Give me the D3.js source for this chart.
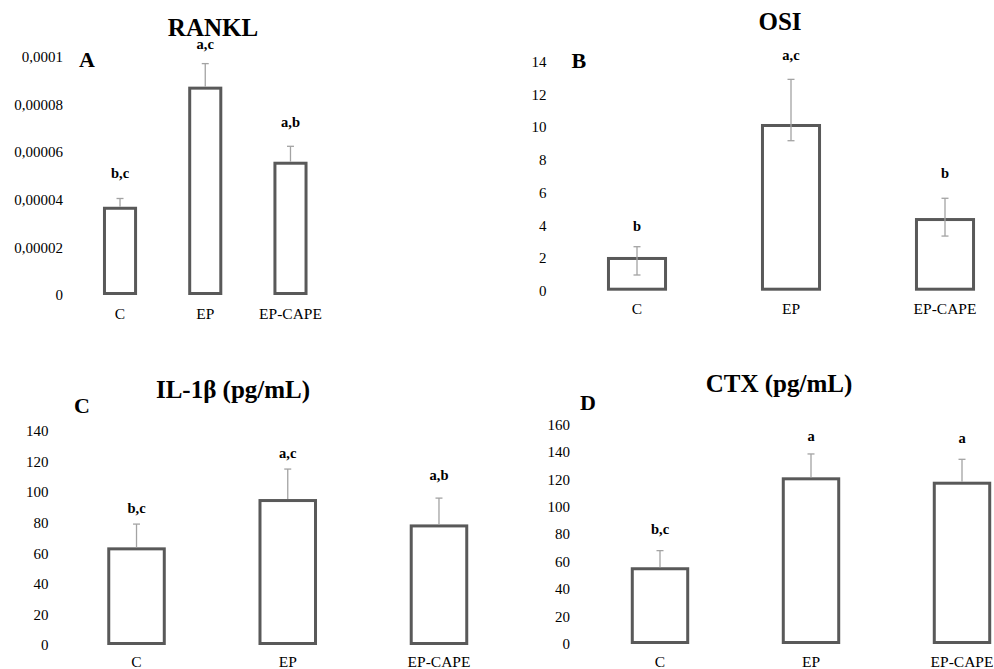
<!DOCTYPE html>
<html>
<head>
<meta charset="utf-8">
<script src="https://cdn.jsdelivr.net/npm/d3@7/dist/d3.min.js"></script>
<style>
  html, body { margin: 0; padding: 0; background: #fff; }
  svg { display: block; }
  text { font-family: "Liberation Serif", "Tinos", "Times New Roman", serif; fill: #000; }
</style>
</head>
<body>
<svg id="chart" width="994" height="669"></svg>
<script>
// ---------------- DATA ----------------
const categories = ["C", "EP", "EP-CAPE"];

// Panel A: RANKL
const rankValues = [0.0000364, 0.0000868, 0.0000553];
const rankErrHi  = [0.0000041, 0.0000103, 0.0000071];
const rankErrLo  = [0, 0, 0];
const rankLetters = ["b,c", "a,c", "a,b"];
const rankTicks = [0, 0.00002, 0.00004, 0.00006, 0.00008, 0.0001];
const rankTickLabels = ["0", "0,00002", "0,00004", "0,00006", "0,00008", "0,0001"];

// Panel B: OSI
const osiValues = [1.97, 10.1, 4.35];
const osiErrHi  = [0.72, 2.82, 1.3];
const osiErrLo  = [1.01, 0.93, 1.01];
const osiLetters = ["b", "a,c", "b"];
const osiTicks = [0, 2, 4, 6, 8, 10, 12, 14];
const osiTickLabels = ["0", "2", "4", "6", "8", "10", "12", "14"];

// Panel C: IL-1β
const ilValues = [62.9, 94.5, 77.9];
const ilErrHi  = [16.2, 20.6, 18.2];
const ilErrLo  = [0, 0, 0];
const ilLetters = ["b,c", "a,c", "a,b"];
const ilTicks = [0, 20, 40, 60, 80, 100, 120, 140];
const ilTickLabels = ["0", "20", "40", "60", "80", "100", "120", "140"];

// Panel D: CTX
const ctxValues = [54.8, 120.3, 117.1];
const ctxErrHi  = [13.2, 18.1, 17.4];
const ctxErrLo  = [0, 0, 0];
const ctxLetters = ["b,c", "a", "a"];
const ctxTicks = [0, 20, 40, 60, 80, 100, 120, 140, 160];
const ctxTickLabels = ["0", "20", "40", "60", "80", "100", "120", "140", "160"];

// ---------------- LAYOUT ----------------
const FONT = "'Liberation Serif', 'Tinos', 'Times New Roman', serif";
const panels = [
  { title: "RANKL", letter: "A", values: rankValues, errHi: rankErrHi, errLo: rankErrLo,
    letters: rankLetters, ticks: rankTicks, tickLabels: rankTickLabels,
    yDomain: [0, 0.0001], yRange: [295, 56.7], xRange: [77.4, 333.1], padding: 0.6,
    tickX: 63, titleX: 213, titleY: 35.5, letterX: 79, letterY: 67, catY: 319,
    labelOffsets: [20, 15, 19] },
  { title: "OSI", letter: "B", values: osiValues, errHi: osiErrHi, errLo: osiErrLo,
    letters: osiLetters, ticks: osiTicks, tickLabels: osiTickLabels,
    yDomain: [0, 14], yRange: [290.7, 61.7], xRange: [560, 1022], padding: 0.61,
    tickX: 546.5, titleX: 780, titleY: 29.5, letterX: 571.5, letterY: 67.5, catY: 314,
    labelOffsets: [16, 19, 20] },
  { title: "IL-1β (pg/mL)", letter: "C", values: ilValues, errHi: ilErrHi, errLo: ilErrLo,
    letters: ilLetters, ticks: ilTicks, tickLabels: ilTickLabels,
    yDomain: [0, 140], yRange: [645, 431], xRange: [60.9, 514.6], padding: 0.613,
    tickX: 48.5, titleX: 233, titleY: 398, letterX: 74, letterY: 413, catY: 666.5,
    labelOffsets: [11.5, 11.5, 18.5] },
  { title: "CTX (pg/mL)", letter: "D", values: ctxValues, errHi: ctxErrHi, errLo: ctxErrLo,
    letters: ctxLetters, ticks: ctxTicks, tickLabels: ctxTickLabels,
    yDomain: [0, 160], yRange: [644, 424.3], xRange: [584.5, 1037.5], padding: 0.613,
    tickX: 570, titleX: 779, titleY: 392, letterX: 580, letterY: 410, catY: 666.5,
    labelOffsets: [16.5, 12.5, 16] }
];

const barStroke = "#595959";
const errColor = "#a3a3a3";

const svg = d3.select("#chart");

panels.forEach(p => {
  const g = svg.append("g");
  const x = d3.scaleBand().domain(categories).range(p.xRange)
    .paddingInner(p.padding).paddingOuter(p.padding / 2);
  const y = d3.scaleLinear().domain(p.yDomain).range(p.yRange);

  // y axis (labels only)
  const yAxis = d3.axisLeft(y).tickValues(p.ticks)
    .tickFormat((d, i) => p.tickLabels[i]).tickSize(0).tickPadding(0);
  const ya = g.append("g").attr("transform", `translate(${p.tickX},0)`).call(yAxis);
  ya.attr("font-family", FONT);
  ya.select(".domain").remove();
  ya.selectAll("text").attr("font-size", 15).attr("font-family", FONT).attr("fill", "#111");

  // x axis (labels only)
  const xAxis = d3.axisBottom(x).tickSize(0).tickPadding(0);
  const xa = g.append("g").attr("transform", `translate(0,${p.catY})`).call(xAxis);
  xa.attr("font-family", FONT);
  xa.select(".domain").remove();
  xa.selectAll("text").attr("font-size", 15.5).attr("dy", 0).attr("font-family", FONT).attr("fill", "#111");

  const data = categories.map((c, i) => ({
    cat: c, v: p.values[i], hi: p.errHi[i], lo: p.errLo[i], lab: p.letters[i], off: p.labelOffsets[i]
  }));

  // bars
  g.append("g").selectAll("rect").data(data).join("rect")
    .attr("x", d => x(d.cat) + 1.5)
    .attr("width", x.bandwidth() - 3)
    .attr("y", d => y(d.v))
    .attr("height", d => y(0) - 1.5 - y(d.v))
    .attr("fill", "none")
    .attr("stroke", barStroke)
    .attr("stroke-width", 3);

  // error bars
  const capW = 7;
  const eb = g.append("g").attr("stroke", errColor).attr("stroke-width", 1.3).attr("fill", "none");
  data.forEach(d => {
    const cx = x(d.cat) + x.bandwidth() / 2;
    eb.append("line").attr("x1", cx).attr("x2", cx)
      .attr("y1", y(d.v + d.hi)).attr("y2", d.lo > 0 ? y(d.v - d.lo) : y(d.v) - 1.5);
    eb.append("line").attr("x1", cx - capW / 2).attr("x2", cx + capW / 2)
      .attr("y1", y(d.v + d.hi)).attr("y2", y(d.v + d.hi));
    if (d.lo > 0) {
      eb.append("line").attr("x1", cx - capW / 2).attr("x2", cx + capW / 2)
        .attr("y1", y(d.v - d.lo)).attr("y2", y(d.v - d.lo));
    }
  });

  // significance letters
  g.append("g").selectAll("text").data(data).join("text")
    .attr("x", d => x(d.cat) + x.bandwidth() / 2)
    .attr("y", d => y(d.v + d.hi) - d.off)
    .attr("text-anchor", "middle")
    .attr("font-size", 14.5)
    .attr("font-weight", "bold")
    .attr("font-family", FONT)
    .text(d => d.lab);

  // title
  g.append("text").attr("x", p.titleX).attr("y", p.titleY)
    .attr("text-anchor", "middle").attr("font-size", 25).attr("font-weight", "bold")
    .attr("font-family", FONT)
    .text(p.title);

  // panel letter
  g.append("text").attr("x", p.letterX).attr("y", p.letterY)
    .attr("font-size", 22).attr("font-weight", "bold")
    .attr("font-family", FONT)
    .text(p.letter);
});
</script>
</body>
</html>
